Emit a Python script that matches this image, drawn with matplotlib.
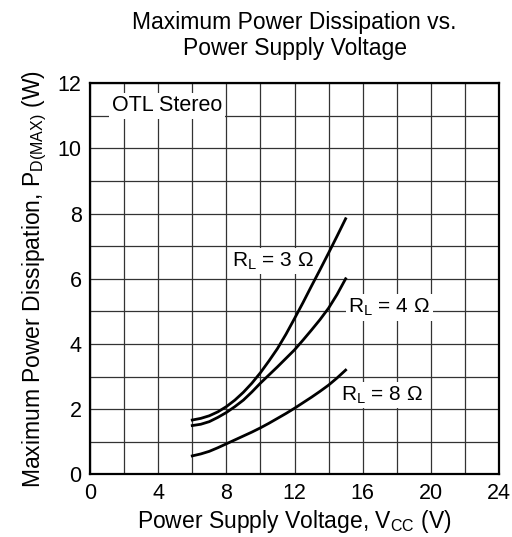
import matplotlib
matplotlib.use('Agg')
import matplotlib.pyplot as plt
import numpy as np

plt.rcParams['font.family'] = ['Liberation Sans', 'DejaVu Sans']
plt.rcParams['mathtext.fontset'] = 'custom'
plt.rcParams['mathtext.rm'] = 'Liberation Sans'
plt.rcParams['mathtext.it'] = 'Liberation Sans:italic'
plt.rcParams['mathtext.bf'] = 'Liberation Sans:bold'

# data
vcc = [6, 6.5, 7, 7.5, 8, 8.5, 9, 9.5, 10, 10.5, 11, 11.5, 12, 12.5, 13, 13.5, 14, 14.5, 15]
pd_3ohm = [1.67, 1.72, 1.80, 1.92, 2.08, 2.28, 2.52, 2.8, 3.12, 3.48, 3.86, 4.3, 4.78,
           5.27, 5.78, 6.28, 6.79, 7.31, 7.84]
pd_4ohm = [1.50, 1.54, 1.62, 1.75, 1.9, 2.08, 2.28, 2.53, 2.8, 3.05, 3.3, 3.56, 3.82,
           4.12, 4.43, 4.75, 5.1, 5.52, 6.0]
pd_8ohm = [0.57, 0.63, 0.71, 0.82, 0.94, 1.06, 1.18, 1.3, 1.43, 1.57, 1.72, 1.87, 2.03,
           2.2, 2.37, 2.55, 2.74, 2.96, 3.2]

x_ticks = [0, 4, 8, 12, 16, 20, 24]
y_ticks = [0, 2, 4, 6, 8, 10, 12]

fig = plt.figure(figsize=(5.12, 5.37), dpi=100)
ax = fig.add_axes([0.1758, 0.1164, 0.7988, 0.729])

ax.set_xlim(0, 24)
ax.set_ylim(0, 12)
ax.set_xticks(x_ticks)
ax.set_yticks(y_ticks)
ax.set_xticks(np.arange(0, 25, 2), minor=True)
ax.set_yticks(np.arange(0, 13, 1), minor=True)
ax.grid(which='both', color='#333333', linewidth=0.9, zorder=0)
ax.tick_params(which='both', length=0, labelsize=15.5, pad=6)
for s in ax.spines.values():
    s.set_linewidth(1.6)
    s.set_zorder(5)

ax.plot(vcc, pd_3ohm, color='black', lw=2.0, zorder=4)
ax.plot(vcc, pd_4ohm, color='black', lw=2.0, zorder=4)
ax.plot(vcc, pd_8ohm, color='black', lw=2.0, zorder=4)

box = dict(facecolor='white', edgecolor='none', pad=2)
ax.text(1.27, 11.3, 'OTL Stereo', fontsize=15.5, va='center', ha='left', bbox=box, zorder=3)
ax.text(8.36, 6.54, r'R$_{\mathrm{L}}$ = 3 Ω', fontsize=15, va='center', ha='left', bbox=box, zorder=3)
ax.text(15.16, 5.11, r'R$_{\mathrm{L}}$ = 4 Ω', fontsize=15, va='center', ha='left', bbox=box, zorder=3)
ax.text(14.72, 2.44, r'R$_{\mathrm{L}}$ = 8 Ω', fontsize=15, va='center', ha='left', bbox=box, zorder=3)

ax.set_title('Maximum Power Dissipation vs.\nPower Supply Voltage', fontsize=16.5, pad=20)
ax.set_xlabel(r'Power Supply Voltage, V$_{\mathrm{CC}}$ (V)', fontsize=16.5, labelpad=3)
ax.set_ylabel(r'Maximum Power Dissipation, P$_{\mathrm{D(MAX)}}$ (W)', fontsize=16.5, labelpad=6)

fig.savefig('out.png', dpi=100)
